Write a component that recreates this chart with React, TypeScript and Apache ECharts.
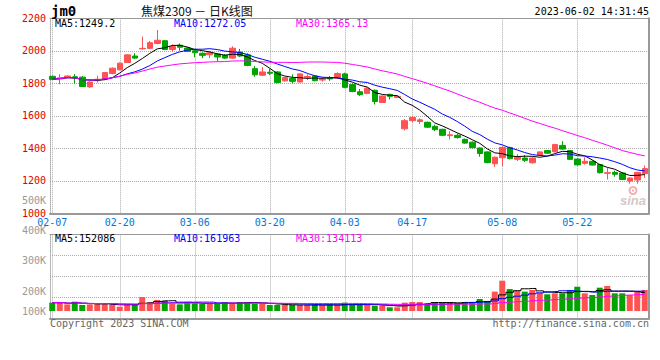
import React, { useEffect, useRef } from "react";
import * as echarts from "echarts";

const dates = [
  "02-07","02-08","02-09","02-10","02-13","02-14","02-15","02-16","02-17","02-20",
  "02-21","02-22","02-23","02-24","02-27","02-28","03-01","03-02","03-03","03-06",
  "03-07","03-08","03-09","03-10","03-13","03-14","03-15","03-16","03-17","03-20",
  "03-21","03-22","03-23","03-24","03-27","03-28","03-29","03-30","03-31","04-03",
  "04-04","04-06","04-07","04-10","04-11","04-12","04-13","04-14","04-17","04-18",
  "04-19","04-20","04-21","04-24","04-25","04-26","04-27","04-28","05-04","05-05",
  "05-08","05-09","05-10","05-11","05-12","05-15","05-16","05-17","05-18","05-19",
  "05-22","05-23","05-24","05-25","05-26","05-29","05-30","05-31","06-01","06-02",
];

const opens = [
  1843,1826,1836,1840,1838,1778,1820,1825,1860,1883,
  1928,1968,2012,2015,2045,2062,2008,2034,2017,2000,
  1985,1976,1980,1972,1955,1992,1975,1890,1850,1868,
  1870,1815,1830,1808,1838,1845,1820,1833,1832,1858,
  1792,1748,1738,1757,1682,1732,1713,1520,1570,1565,
  1560,1535,1517,1478,1480,1455,1438,1402,1378,1305,
  1342,1405,1332,1340,1311,1357,1386,1379,1418,1386,
  1334,1308,1320,1300,1246,1252,1248,1199,1205,1244,
];
const closes = [
  1824,1834,1845,1832,1780,1808,1825,1866,1893,1924,
  1975,1955,2015,2050,2065,2008,2026,2022,1996,1988,
  1972,1988,1962,1955,2016,1968,1910,1852,1870,1862,
  1805,1835,1812,1858,1842,1816,1825,1827,1860,1775,
  1750,1730,1770,1688,1722,1720,1720,1570,1590,1575,
  1530,1515,1480,1483,1466,1432,1404,1368,1312,1345,
  1406,1336,1345,1326,1340,1378,1370,1423,1395,1332,
  1298,1320,1297,1250,1250,1240,1208,1217,1252,1275,
];
const highs = [
  1848,1856,1850,1856,1845,1812,1846,1870,1898,1928,
  1978,1985,2088,2060,2128,2066,2040,2045,2024,2008,
  1990,1998,1985,1980,2028,2012,1985,1906,1900,1890,
  1875,1840,1855,1862,1855,1850,1835,1845,1868,1865,
  1800,1765,1775,1762,1725,1736,1724,1580,1600,1585,
  1565,1545,1520,1505,1490,1460,1442,1405,1380,1350,
  1410,1410,1365,1358,1345,1380,1390,1428,1444,1390,
  1338,1345,1326,1305,1280,1262,1252,1220,1255,1294,
];
const lows = [
  1820,1794,1832,1798,1778,1772,1804,1820,1855,1880,
  1925,1950,2008,2010,2040,2004,1995,2000,1992,1960,
  1955,1955,1935,1950,1950,1962,1905,1840,1845,1850,
  1800,1810,1800,1805,1820,1812,1810,1815,1828,1770,
  1745,1722,1733,1670,1680,1700,1710,1510,1560,1550,
  1525,1505,1475,1455,1460,1428,1400,1348,1308,1285,
  1290,1332,1322,1316,1305,1352,1365,1375,1392,1328,
  1294,1300,1294,1245,1208,1225,1205,1182,1182,1218,
];
const volumes = [
  68000,68000,54000,76000,49000,54000,57000,57000,49000,35000,
  57000,57000,114000,71000,90000,82000,62000,54000,73000,62000,
  57000,57000,57000,73000,68000,73000,73000,57000,57000,49000,
  49000,49000,49000,49000,49000,49000,49000,54000,49000,68000,
  49000,49000,57000,43000,43000,30000,30000,68000,73000,73000,
  57000,73000,68000,73000,62000,73000,73000,98000,82000,158000,
  247000,179000,163000,158000,171000,149000,136000,144000,144000,171000,
  198000,144000,130000,190000,204000,144000,144000,130000,163000,171000,
];

const labelIndices = [0, 9, 19, 29, 39, 48, 60, 70];
const priceLegend = ["MA5:1249.2", "MA10:1272.05", "MA30:1365.13"];
const volLegend = ["MA5:152086", "MA10:161963", "MA30:134113"];
const volTickLabels = ["500K", "400K", "300K", "200K", "100K"];
const titleText = "焦煤2309 － 日K线图";
const codeText = "jm0";
const timeText = "2023-06-02 14:31:45";

const RED = "#ff5252";
const GREEN = "#00a300";
const MONO = "DejaVu Sans Mono";
const GRIDC = "#aaaaaa";
const FRAMEC = "#999999";

function movingAverage(arr: number[], n: number): number[] {
  return arr.map((_, i) => {
    const s = Math.max(0, i - n + 1);
    let sum = 0;
    for (let j = s; j <= i; j++) sum += arr[j];
    return +(sum / (i - s + 1)).toFixed(2);
  });
}

const showLabel = (idx: number) => labelIndices.indexOf(idx) >= 0;

function buildOption() {
  const candles = opens.map((o, i) => [o, closes[i], lows[i], highs[i]]);
  const volData = volumes.map((v, i) => ({
    value: v,
    itemStyle: { color: closes[i] >= opens[i] ? RED : GREEN },
  }));
  const legendColors = ["#000000", "#0000ff", "#ff00ff"];
  const legendX = [55, 174, 296];
  const volLabelY = [200, 230.5, 260.5, 291, 311];

  const texts: any[] = [];
  const addText = (text: string, x: number, y: number, fill: string, font: string, align = "left") => {
    texts.push({
      type: "text",
      x,
      y,
      silent: true,
      z: 100,
      style: { text, fill, font, textAlign: align, align, textVerticalAlign: "middle", verticalAlign: "middle" },
    });
  };
  addText(codeText, 51, 10.5, "#000", `bold 14px "${MONO}"`);
  addText(titleText, 141, 10.5, "#111", `12px "Noto Sans CJK SC"`);
  addText(timeText, 649, 11, "#000", `10px "${MONO}"`, "right");
  priceLegend.forEach((t, i) => addText(t, legendX[i], 23.7, legendColors[i], `10px "${MONO}"`));
  volLegend.forEach((t, i) => addText(t, legendX[i], 238.7, legendColors[i], `10px "${MONO}"`));
  volTickLabels.forEach((t, i) => addText(t, 46, volLabelY[i], "#999", `10px "${MONO}"`, "right"));
  addText("Copyright 2023 SINA.COM", 50, 323.5, "#666", `10px "${MONO}"`);
  addText("http://finance.sina.com.cn", 649, 323.5, "#666", `10px "${MONO}"`, "right");
  // sina watermark
  texts.push({ type: "circle", shape: { cx: 633, cy: 190.5, r: 3.5 }, style: { fill: "none", stroke: "#f4b0b0", lineWidth: 2 }, silent: true, z: 1 });
  texts.push({ type: "circle", shape: { cx: 633, cy: 190.5, r: 1.2 }, style: { fill: "#f4b0b0" }, silent: true, z: 1 });
  addText("sina", 620, 200.5, "#d4c8c8", `italic bold 13px "Liberation Sans"`);
  texts[texts.length - 1].z = 1;

  const frameX = (gridIndex: number, position: string, width: number) => ({
    type: "value", gridIndex, position, min: 0, max: 1, show: true,
    axisLine: { show: true, onZero: false, lineStyle: { color: FRAMEC, width } },
    axisTick: { show: false }, axisLabel: { show: false }, splitLine: { show: false },
  });
  const frameYRight = (gridIndex: number) => ({
    type: "value", gridIndex, position: "right", min: 0, max: 1,
    axisLine: { show: true, onZero: false, lineStyle: { color: FRAMEC, width: 2 } },
    axisTick: { show: false }, axisLabel: { show: false }, splitLine: { show: false },
  });
  const catAxis = (gridIndex: number, labels: boolean) => ({
    type: "category", gridIndex, data: dates, boundaryGap: false,
    axisLine: { show: false }, axisTick: { show: false },
    axisLabel: {
      show: labels, interval: (idx: number) => showLabel(idx),
      color: "#0077d4", fontFamily: MONO, fontSize: 10, margin: 4,
    },
    splitLine: { show: true, interval: (idx: number) => showLabel(idx), lineStyle: { color: GRIDC, type: "dotted", width: 1 } },
  });

  return {
    animation: false,
    backgroundColor: "#ffffff",
    grid: [
      { left: 50, top: 18.3, width: 599, height: 195 },
      { left: 52.25, top: 18.3, width: 592.5, height: 195 },
      { left: 50, top: 234.5, width: 599, height: 83.8 },
      { left: 52.25, top: 234.5, width: 592.5, height: 83.8 },
    ],
    xAxis: [
      frameX(0, "bottom", 2),
      frameX(0, "top", 1),
      catAxis(1, true),
      frameX(2, "bottom", 2),
      frameX(2, "top", 1),
      catAxis(3, false),
    ],
    yAxis: [
      {
        type: "value", gridIndex: 0, position: "left", min: 1000, max: 2200, interval: 200,
        axisLine: { show: true, lineStyle: { color: GRIDC, type: "dotted" } },
        axisTick: { show: false },
        axisLabel: {
          color: "#e00000", fontFamily: MONO, fontSize: 10, margin: 4, padding: [0, 0, 4, 0],
          formatter: (v: number) => String(v),
        },
        splitLine: { show: true, lineStyle: { color: GRIDC, type: "dotted" } },
      },
      frameYRight(0),
      { type: "value", gridIndex: 1, min: 1000, max: 2200, show: false },
      {
        type: "value", gridIndex: 2, position: "left", min: 0, max: 4, interval: 1,
        axisLine: { show: true, lineStyle: { color: GRIDC, type: "dotted" } },
        axisTick: { show: false }, axisLabel: { show: false },
        splitLine: { show: true, lineStyle: { color: GRIDC, type: "dotted" } },
      },
      frameYRight(2),
      { type: "value", gridIndex: 3, min: -59500, max: 623500, show: false },
    ],
    series: [
      {
        type: "candlestick", xAxisIndex: 2, yAxisIndex: 2, data: candles, barWidth: 6, clip: false,
        itemStyle: { color: RED, color0: GREEN, borderColor: RED, borderColor0: GREEN, borderWidth: 1 },
      },
      { type: "line", xAxisIndex: 2, yAxisIndex: 2, data: movingAverage(closes, 5), symbol: "none", lineStyle: { color: "#000", width: 1 }, z: 5 },
      { type: "line", xAxisIndex: 2, yAxisIndex: 2, data: movingAverage(closes, 10), symbol: "none", lineStyle: { color: "#0000ff", width: 1 }, z: 5 },
      { type: "line", xAxisIndex: 2, yAxisIndex: 2, data: movingAverage(closes, 30), symbol: "none", lineStyle: { color: "#ff00ff", width: 1 }, z: 5 },
      { type: "bar", xAxisIndex: 5, yAxisIndex: 5, data: volData, barWidth: 6, clip: false },
      { type: "line", xAxisIndex: 5, yAxisIndex: 5, data: movingAverage(volumes, 5), step: "middle", symbol: "none", lineStyle: { color: "#000", width: 1 }, z: 5 },
      { type: "line", xAxisIndex: 5, yAxisIndex: 5, data: movingAverage(volumes, 10), step: "middle", symbol: "none", lineStyle: { color: "#0000ff", width: 1 }, z: 5 },
      { type: "line", xAxisIndex: 5, yAxisIndex: 5, data: movingAverage(volumes, 30), step: "middle", symbol: "none", lineStyle: { color: "#ff00ff", width: 1 }, z: 5 },
    ],
    graphic: texts,
  };
}

export default function App() {
  const ref = useRef<HTMLDivElement>(null);
  useEffect(() => {
    if (!ref.current) return;
    const chart = echarts.init(ref.current, null, { renderer: "svg" });
    chart.setOption(buildOption() as any);
    return () => chart.dispose();
  }, []);
  return (
    <div
      ref={ref}
      style={{ position: "fixed", left: 0, top: 0, width: 660, height: 360, background: "#fff" }}
    />
  );
}
